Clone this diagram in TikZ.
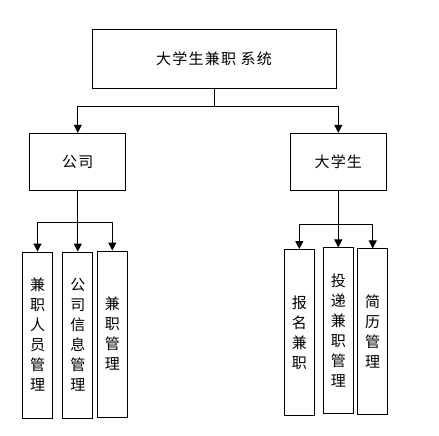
\documentclass[tikz,border=0pt]{standalone}
\usepackage{fontspec}
\setmainfont{Noto Sans CJK SC}[LetterSpace=8]
\usetikzlibrary{arrows.meta}

\begin{document}
\begin{tikzpicture}[x=1pt, y=-1pt,
    box/.style={draw, line width=0.9pt, inner sep=0pt, align=center,
        font=\fontsize{15}{20}\selectfont},
    col/.style={box, minimum width=30pt, minimum height=166pt},
    arr/.style={line width=0.9pt, -{Triangle[width=8pt,length=8pt]}}]
            \useasboundingbox (0,0) rectangle (439,436);
            % top level
            \node[box, minimum width=244pt, minimum height=59pt] (sys) at (214,58.7) {大学生兼职 系统};
            \node[box, minimum width=96pt, minimum height=57pt] (gs) at (77.8,161.8) {公司};
            \node[box, minimum width=96pt, minimum height=57pt] (stu) at (338.3,161.8) {大学生};
            \draw[arr] (sys.south) -- ++(0,18) -| (gs.north);
            \draw[arr] (sys.south) -- ++(0,18) -| (stu.north);
            % company side
            \node[col] (ryg) at (37.5,335) {兼\\职\\人\\员\\管\\理};
            \node[col] (xxg) at (77.8,335) {公\\司\\信\\息\\管\\理};
            \node[col] (jzg) at (112.3,334) {兼\\职\\管\\理};
            \draw[arr] (gs.south) -- ++(0,32) -| (ryg.north);
            \draw[arr] (gs.south) -- (xxg.north);
            \draw[arr] (gs.south) -- ++(0,32) -| (jzg.north);
            % student side
            \node[col] (bm) at (299.3,332.5) {报\\名\\兼\\职};
            \node[col] (td) at (338.3,330.9) {投\\递\\兼\\职\\管\\理};
            \node[col] (jl) at (372.7,331.9) {简\\历\\管\\理};
            \draw[arr] (stu.south) -- ++(0,34) -| (bm.north);
            \draw[arr] (stu.south) -- (td.north);
            \draw[arr] (stu.south) -- ++(0,34) -| (jl.north);
        \end{tikzpicture}
\end{document}
